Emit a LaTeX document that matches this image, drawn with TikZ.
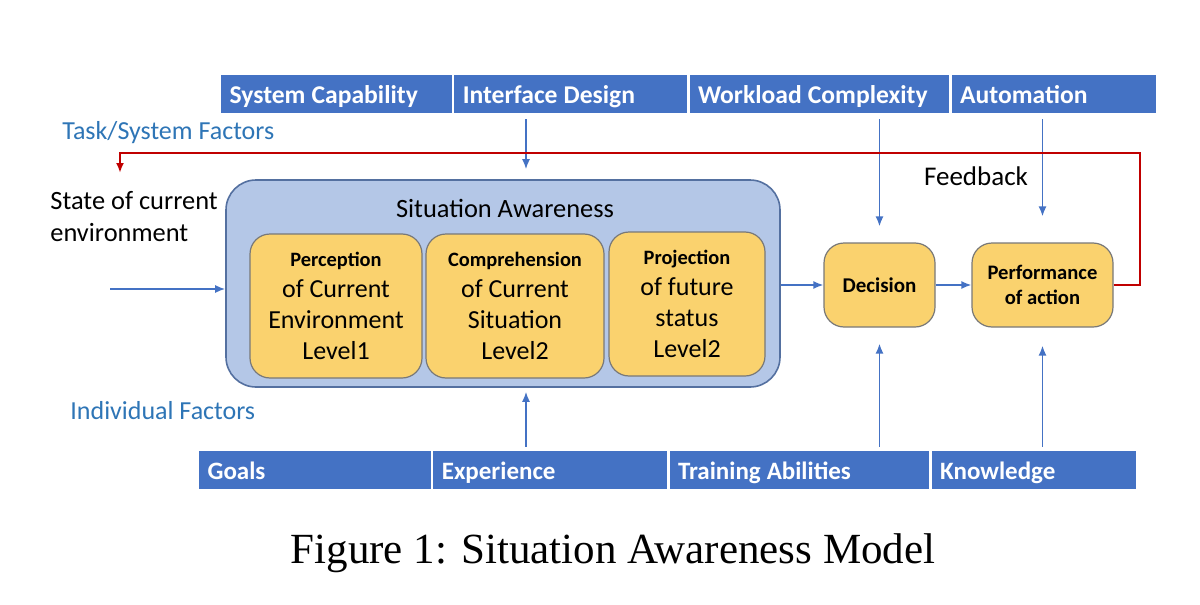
\documentclass[tikz,border=0pt]{standalone}
\usepackage{fontspec}
\setmainfont{Carlito}
\newfontfamily\capfont{Liberation Serif}
\usepackage{xcolor}
\usetikzlibrary{arrows.meta,positioning}
\definecolor{barblue}{RGB}{68,114,196}
\definecolor{labblue}{RGB}{46,117,182}
\definecolor{safill}{RGB}{180,199,231}
\definecolor{saline}{RGB}{84,112,160}
\definecolor{lvlfill}{RGB}{250,210,110}
\definecolor{lvlline}{RGB}{120,120,120}
\definecolor{fbred}{RGB}{192,0,0}

\begin{document}
\begin{tikzpicture}[
  x=0.5pt, y=-0.5pt,
  node distance=0pt,
  cell/.style={fill=barblue, draw=white, line width=0.6pt, text=white,
               font=\fontsize{12.8}{14}\selectfont\bfseries,
               execute at begin node={\spaceskip=0.24em\relax},
               anchor=west, align=left, inner xsep=4.5pt, text width=#1-9pt,
               text height=10.5pt, text depth=1pt, inner ysep=4pt},
  lowcell/.style={cell=#1, font=\fontsize{12.5}{14}\selectfont\bfseries},
  lvl/.style={draw=lvlline, fill=lvlfill, rounded corners=10pt, align=center,
              line width=0.6pt, minimum height=72pt, inner sep=0pt,
              font=\fontsize{13}{15.5}\selectfont},
  act/.style={lvl, minimum height=42pt},
  factor/.style={text=labblue, anchor=west, inner sep=0pt,
                 font=\fontsize{13}{15}\selectfont},
  arr/.style={-{Latex[length=5pt,width=4pt]}, barblue, line width=0.8pt},
  fb/.style={-{Latex[length=5pt,width=4pt]}, fbred, line width=1pt}
]
  \useasboundingbox (0,0) rectangle (1200,605);

  % task / system factors
  \node[cell=116pt] (sys) at (220,94) {System Capability};
  \node[cell=117pt, right=of sys] (ifd) {Interface Design};
  \node[cell=130.5pt, right=of ifd] (wl) {Workload Complexity};
  \node[cell=102.5pt, right=of wl] (auto) {Automation};
  \node[factor] (task) at (62,133) {Task/System Factors};

  % situation awareness
  \node[draw=saline, fill=safill, line width=0.8pt, rounded corners=15pt,
        minimum width=277pt, minimum height=103.5pt] (sa) at (503,283.5) {};
  \node[font=\fontsize{13.2}{15}\selectfont] (satitle) at (505,208) {Situation Awareness};
  \node[lvl, minimum width=86pt] (perc) at (336,306)
    {{\fontsize{10.2}{12}\selectfont\bfseries Perception}\\of Current\\Environment\\Level1};
  \node[lvl, minimum width=89pt] (comp) at (515,306)
    {{\fontsize{10.2}{12}\selectfont\bfseries Comprehension}\\of Current\\Situation\\Level2};
  \node[lvl, minimum width=78pt] (proj) at (687,304)
    {{\fontsize{10.2}{12}\selectfont\bfseries Projection}\\of future\\status\\Level2};

  % decision and action
  \node[act, minimum width=55.5pt, font=\fontsize{10.5}{12}\selectfont\bfseries] (dec) at (879.5,285) {Decision};
  \node[act, minimum width=70.5pt, font=\fontsize{10.3}{12.5}\selectfont\bfseries] (perf) at (1042.5,285) {Performance\\of action};

  \node[align=left, anchor=north west, inner sep=0pt,
        font=\fontsize{13.2}{16}\selectfont] (env) at (50,191) {State of current\\environment};
  \node[font=\fontsize{13.5}{15}\selectfont] (fbtext) at (976,176) {Feedback};

  % individual factors
  \node[factor] (indiv) at (70,411) {Individual Factors};
  \node[lowcell=116.5pt] (goals) at (198,470) {Goals};
  \node[lowcell=117.5pt, right=of goals] (exp) {Experience};
  \node[lowcell=130.5pt, right=of exp] (train) {Training Abilities};
  \node[lowcell=102.5pt, right=of train] (know) {Knowledge};

  \node[font=\capfont\fontsize{21.5}{25}\selectfont] (caption) at (613,553)
    {Figure 1: Situation Awareness Model};

  % connectors
  \coordinate (mid) at (526,0);
  \coordinate (envin) at (110,289);
  \coordinate (fbr) at (1140,153);
  \coordinate (fbl) at (120,153);
  \coordinate (fbend) at (120,173);
  \draw[arr] (envin) -- (envin -| sa.west);
  \draw[arr] (dec.west -| sa.east) -- (dec.west);
  \draw[arr] (dec) -- (perf);
  \draw[arr, shorten <=2.5pt, shorten >=5pt] (mid |- ifd.south) -- (mid |- sa.north);
  \draw[arr, shorten <=2.5pt, shorten >=8pt] (dec.north |- wl.south) -- (dec.north);
  \draw[arr, shorten <=2.5pt, shorten >=13pt] (perf.north |- auto.south) -- (perf.north);
  \draw[arr, shorten <=1.5pt, shorten >=2pt] (mid |- exp.north) -- (mid |- sa.south);
  \draw[arr, shorten <=1.5pt, shorten >=8pt] (dec.south |- train.north) -- (dec.south);
  \draw[arr, shorten <=1.5pt, shorten >=9pt] (perf.south |- know.north) -- (perf.south);
  \draw[fb] (perf.east) -| (fbr) -- (fbl) -- (fbend);
\end{tikzpicture}
\end{document}
